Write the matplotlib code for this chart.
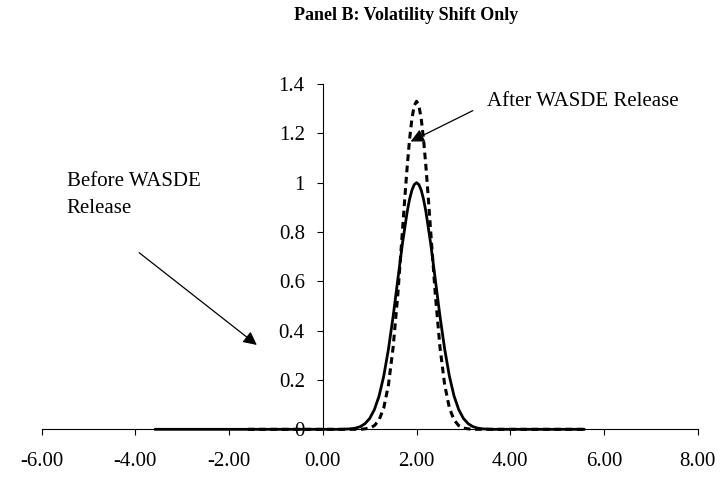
import matplotlib
matplotlib.use("Agg")
import matplotlib.pyplot as plt

# ======================
# 数据
# ======================
# Before WASDE Release (实线)
before_x = [-3.6, 0.4, 0.5, 0.6, 0.7, 0.8, 0.9, 1.0, 1.1, 1.2, 1.3, 1.4, 1.5,
            1.6, 1.7, 1.8, 1.85, 1.9, 1.95, 2.0, 2.05, 2.1, 2.15, 2.2, 2.3,
            2.4, 2.5, 2.6, 2.7, 2.8, 2.9, 3.0, 3.1, 3.2, 3.3, 3.4, 3.5, 3.6, 5.6]
before_y = [0.0, 0.0, 0.001, 0.002, 0.005, 0.011, 0.023, 0.044, 0.080, 0.135,
            0.216, 0.325, 0.458, 0.607, 0.755, 0.882, 0.932, 0.969, 0.992, 1.0,
            0.992, 0.969, 0.932, 0.882, 0.755, 0.607, 0.458, 0.325, 0.216,
            0.135, 0.080, 0.044, 0.023, 0.011, 0.005, 0.002, 0.001, 0.0, 0.0]

# After WASDE Release (虚线)
after_x = [-1.6, 0.8, 0.9, 1.0, 1.1, 1.2, 1.3, 1.4, 1.5, 1.6, 1.7, 1.75, 1.8,
           1.85, 1.9, 1.95, 2.0, 2.05, 2.1, 2.15, 2.2, 2.25, 2.3, 2.4, 2.5,
           2.6, 2.7, 2.8, 2.9, 3.0, 3.1, 3.2, 5.6]
after_y = [0.0, 0.0, 0.002, 0.005, 0.015, 0.038, 0.087, 0.180, 0.332, 0.547,
           0.807, 0.940, 1.065, 1.174, 1.258, 1.312, 1.33, 1.312, 1.258, 1.174,
           1.065, 0.940, 0.807, 0.547, 0.332, 0.180, 0.087, 0.038, 0.015,
           0.005, 0.002, 0.0, 0.0]

x_ticks = [-6, -4, -2, 0, 2, 4, 6, 8]
x_labels = ["-6.00", "-4.00", "-2.00", "0.00", "2.00", "4.00", "6.00", "8.00"]
y_ticks = [0, 0.2, 0.4, 0.6, 0.8, 1.0, 1.2, 1.4]
y_labels = ["0", "0.2", "0.4", "0.6", "0.8", "1", "1.2", "1.4"]

plt.rcParams['font.family'] = ['Liberation Serif', 'DejaVu Serif']
plt.rcParams['axes.unicode_minus'] = False

fig = plt.figure(figsize=(7.23, 4.8), dpi=100)
ax = fig.add_axes([0.0577, 0.1056, 0.9073, 0.7194])

ax.plot(before_x, before_y, color='black', lw=2.0, zorder=3,
        solid_capstyle='butt', clip_on=False)
ax.plot(after_x, after_y, color='black', lw=2.2, zorder=3,
        linestyle=(0, (2.2, 1.5)), dash_capstyle='butt', clip_on=False)

ax.set_xlim(-6, 8)
ax.set_ylim(0, 1.4)

# 坐标轴放在零点
ax.spines['left'].set_position(('data', 0))
ax.spines['bottom'].set_position(('data', 0))
ax.spines['top'].set_visible(False)
ax.spines['right'].set_visible(False)
for s in ['left', 'bottom']:
    ax.spines[s].set_linewidth(0.8)

ax.set_xticks(x_ticks)
ax.set_xticklabels(x_labels)
ax.set_yticks(y_ticks)
ax.set_yticklabels(y_labels)
ax.tick_params(axis='x', direction='out', length=4, width=0.8,
               labelsize=15, pad=12)
ax.tick_params(axis='y', direction='out', length=4, width=0.8,
               labelsize=15, pad=9)

# 标注
ax.annotate("", xy=(1.874, 1.167), xytext=(3.20, 1.292),
            arrowprops=dict(arrowstyle='-|>', color='black', lw=0.9,
                            mutation_scale=20, shrinkA=0, shrinkB=0))
ax.text(3.507, 1.312, "After WASDE Release", fontsize=15, va='baseline',
        ha='left')

ax.annotate("", xy=(-1.409, 0.342), xytext=(-3.92, 0.716),
            arrowprops=dict(arrowstyle='-|>', color='black', lw=0.9,
                            mutation_scale=20, shrinkA=0, shrinkB=0))
ax.text(-5.464, 0.987, "Before WASDE", fontsize=15, va='baseline', ha='left')
ax.text(-5.464, 0.878, "Release", fontsize=15, va='baseline', ha='left')

fig.text(0.5615, 0.968, "Panel B: Volatility Shift Only", fontsize=13,
         fontweight='bold', ha='center', va='center')

fig.savefig("out.png", dpi=100)
